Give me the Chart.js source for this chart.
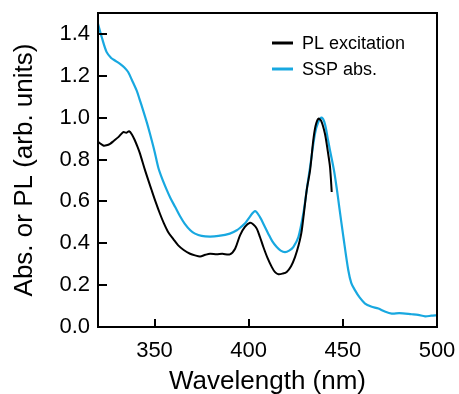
<!DOCTYPE html>
<html><head><meta charset="utf-8">
<script src="https://cdn.jsdelivr.net/npm/chart.js@4/dist/chart.umd.min.js"></script>
<style>html,body{margin:0;padding:0;background:#fff}#wrap{width:459px;height:394px;position:relative}</style>
</head><body><div id="wrap"><canvas id="c" width="459" height="394"></canvas></div>
<script>
const seriesLabels = ['PL excitation', 'SSP abs.'];
const plWavelength = [320.2,322.8,324.5,326.4,328.5,330.8,333.4,335,336.5,338,339.6,341,342.3,345,348.5,350.5,352.9,355,357.3,360,362.6,365.5,368.9,371.5,374.2,377,379.5,383,386,390,392.8,395.4,398,400.7,402.5,404.3,406,407.8,410,412.3,414,415.8,418,420.2,422.5,424.6,426.5,428.2,430.8,432.6,434.3,435.5,437,438.5,440.5,442,443.2,444.1];
const plValues = [0.883,0.867,0.868,0.875,0.89,0.907,0.931,0.928,0.935,0.92,0.891,0.86,0.828,0.748,0.653,0.60,0.541,0.495,0.453,0.42,0.39,0.368,0.35,0.342,0.337,0.345,0.35,0.348,0.35,0.347,0.374,0.438,0.478,0.498,0.49,0.47,0.43,0.382,0.33,0.286,0.262,0.252,0.255,0.263,0.29,0.334,0.39,0.462,0.653,0.748,0.891,0.96,0.995,0.985,0.923,0.84,0.764,0.645];
const sspWavelength = [320,322,324.6,327,329,331.7,334,336,338,340.5,342,344,346,347.6,350,352,354,356.5,358.5,361,363.5,366,369,371.5,375,379.5,384,390,393.7,396,398,400.5,403.4,406,408,410.4,412.5,414.9,417,419.3,421.5,423.7,426.4,429,430.8,432.6,435.2,437,438.8,440.5,442,443.2,445.3,446.8,448,450.3,452.9,454.5,456.5,459,461.8,465,468.9,472,476,480,486.6,490,493.7,497,500];
const sspValues = [1.448,1.384,1.313,1.285,1.273,1.257,1.24,1.218,1.18,1.13,1.09,1.034,0.975,0.923,0.84,0.762,0.71,0.655,0.615,0.573,0.53,0.494,0.462,0.446,0.435,0.432,0.435,0.446,0.462,0.478,0.494,0.525,0.554,0.525,0.49,0.446,0.41,0.382,0.365,0.358,0.365,0.382,0.43,0.541,0.653,0.764,0.923,0.98,1.0,0.97,0.90,0.843,0.748,0.66,0.58,0.43,0.271,0.21,0.175,0.14,0.112,0.098,0.088,0.075,0.064,0.066,0.061,0.058,0.051,0.054,0.056];
const xTickValues = [350, 400, 450, 500];
const yTickValues = [0, 0.2, 0.4, 0.6, 0.8, 1.0, 1.2, 1.4];

const FONT = "'Liberation Sans', Arial, sans-serif";

const framePlugin = {
  id: 'frame',
  afterDatasetsDraw(chart) {
    const ctx = chart.ctx, a = chart.chartArea;
    const xs = chart.scales.x, ys = chart.scales.y;
    ctx.save();
    ctx.strokeStyle = '#000';
    ctx.lineWidth = 2;
    ctx.beginPath();
    xTickValues.forEach(v => {
      const px = Math.round(xs.getPixelForValue(v));
      ctx.moveTo(px, a.bottom); ctx.lineTo(px, a.bottom - 8);
    });
    yTickValues.forEach(v => {
      const py = Math.round(ys.getPixelForValue(v));
      ctx.moveTo(a.left, py); ctx.lineTo(a.left + 9, py);
    });
    ctx.stroke();
    ctx.strokeRect(a.left, a.top, a.right - a.left, a.bottom - a.top);
    // legend
    ctx.font = '18px ' + FONT;
    ctx.textBaseline = 'middle';
    ctx.textAlign = 'left';
    chart.data.datasets.forEach((ds, i) => {
      const y = a.top + 30 + i * 26;
      ctx.strokeStyle = ds.borderColor;
      ctx.lineWidth = 3;
      ctx.beginPath();
      ctx.moveTo(a.right - 165, y); ctx.lineTo(a.right - 144, y);
      ctx.stroke();
      ctx.fillStyle = '#000';
      ctx.fillText(ds.label, a.right - 135, y + 1.5);
    });
    ctx.restore();
  }
};

function zeroPad(s) { s.paddingTop = 0; s.paddingBottom = 0; s.paddingLeft = 0; s.paddingRight = 0; }

new Chart(document.getElementById('c'), {
  type: 'line',
  data: {
    datasets: [
      { label: seriesLabels[0], data: plWavelength.map((x, i) => ({x, y: plValues[i]})),
        borderColor: '#000000', borderWidth: 2, pointRadius: 0, tension: 0.3, fill: false },
      { label: seriesLabels[1], data: sspWavelength.map((x, i) => ({x, y: sspValues[i]})),
        borderColor: '#18a8e0', borderWidth: 2.2, pointRadius: 0, tension: 0.3, fill: false }
    ]
  },
  options: {
    responsive: false,
    animation: false,
    devicePixelRatio: 1,
    layout: { padding: { left: 0, top: 13, right: 22, bottom: 0 } },
    plugins: { legend: { display: false }, tooltip: { enabled: false } },
    scales: {
      x: {
        type: 'linear', min: 320, max: 500,
        afterBuildTicks: s => { s.ticks = xTickValues.map(v => ({ value: v })); },
        afterFit: s => { s.height = 67; zeroPad(s); },
        grid: { display: false, drawTicks: false },
        border: { display: false },
        ticks: { color: '#000', font: { family: FONT, size: 22 }, padding: 11, maxRotation: 0, autoSkip: false },
        title: { display: true, text: 'Wavelength (nm)', color: '#000', font: { family: FONT, size: 26, lineHeight: 0.9 }, padding: { top: 0, bottom: 0 } }
      },
      y: {
        min: 0, max: 1.5,
        afterBuildTicks: s => { s.ticks = yTickValues.map(v => ({ value: v })); },
        afterFit: s => { s.width = 98; zeroPad(s); },
        grid: { display: false, drawTicks: false },
        border: { display: false },
        ticks: { color: '#000', font: { family: FONT, size: 22 }, padding: 8, callback: v => v.toFixed(1), autoSkip: false },
        title: { display: true, text: 'Abs. or PL (arb. units)', color: '#000', font: { family: FONT, size: 26, lineHeight: 1.2 }, padding: { top: 9, bottom: 0 } }
      }
    }
  },
  plugins: [framePlugin]
});
</script></body></html>
